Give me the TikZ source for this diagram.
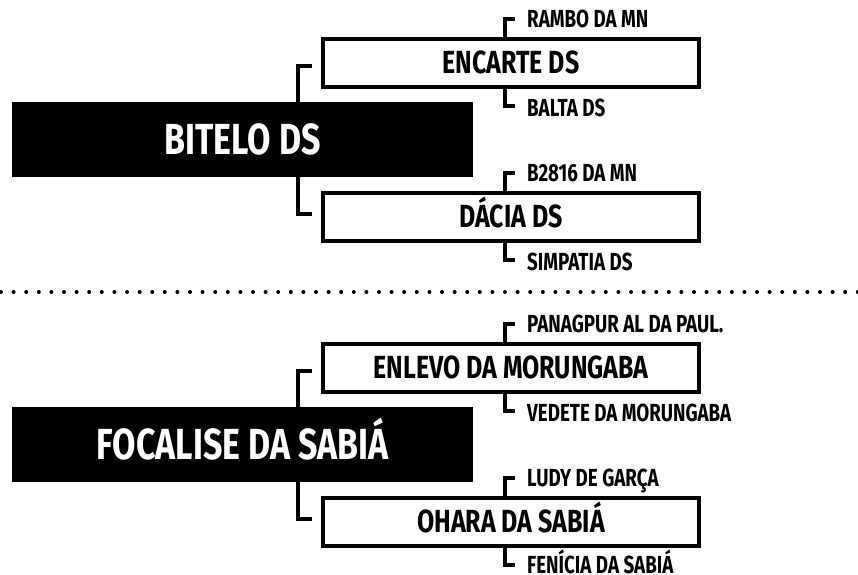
\documentclass[tikz,border=0pt]{standalone}
\usepackage{fontspec}
\newfontfamily\condfont{Fira Sans}[FakeStretch=0.78]
\newfontfamily\leaffont{Fira Sans}[FakeStretch=0.76]
\usetikzlibrary{positioning}
\tikzset{
  root/.style={fill=black,text=white,minimum width=461pt,minimum height=75pt,inner sep=0pt,text height=30pt,text depth=0pt,font=\condfont\bfseries\fontsize{43.5}{44}\selectfont},
  child/.style={draw,line width=4pt,minimum width=376pt,minimum height=48pt,inner sep=0pt,text height=22pt,text depth=0pt,font=\condfont\bfseries\fontsize{32}{32}\selectfont},
  leaf/.style={inner sep=0pt,anchor=base west,font=\leaffont\bfseries\fontsize{24.7}{25}\selectfont},
  link/.style={line width=4pt},
}
\begin{document}
\begin{tikzpicture}[x=1pt,y=-1pt]
\useasboundingbox (0,0) rectangle (858,574);
% upper tree
\node[root](bitelo) at (242.5,139.5){BITELO DS};
\node[child](encarte) at (511,62.5){ENCARTE DS};
\node[child](dacia) at (511,216.5){DÁCIA DS};
\node[leaf](rambo) at ([xshift=16pt,yshift=9pt]encarte.north){RAMBO DA MN};
\node[leaf](balta) at ([xshift=16pt,yshift=-27.5pt]encarte.south){BALTA DS};
\node[leaf](b2816) at ([xshift=16pt,yshift=9pt]dacia.north){B2816 DA MN};
\node[leaf](simpatia) at ([xshift=16pt,yshift=-27.5pt]dacia.south){SIMPATIA DS};
\draw[link] ([xshift=55.5pt]bitelo.north) |- ([xshift=-9pt,yshift=-3pt]encarte.west);
\draw[link] ([xshift=55.5pt]bitelo.south) |- ([xshift=-9pt,yshift=3pt]dacia.west);
\draw[link] ([xshift=-6pt]encarte.north) |- ([xshift=-12pt,yshift=8.5pt]rambo.base west);
\draw[link] ([xshift=-6pt]encarte.south) |- ([xshift=-12pt,yshift=10.5pt]balta.base west);
\draw[link] ([xshift=-6pt]dacia.north) |- ([xshift=-12pt,yshift=8.5pt]b2816.base west);
\draw[link] ([xshift=-6pt]dacia.south) |- ([xshift=-12pt,yshift=10.5pt]simpatia.base west);
% separator
\draw[line width=4pt,line cap=round,dash pattern=on 0pt off 12.6pt] (1,292) -- (858,292);
% lower tree
\node[root](focalise) at (242.5,444.5){FOCALISE DA SABIÁ};
\node[child](enlevo) at (511,367.5){ENLEVO DA MORUNGABA};
\node[child](ohara) at (511,521.5){OHARA DA SABIÁ};
\node[leaf](panagpur) at ([xshift=16pt,yshift=9pt]enlevo.north){PANAGPUR AL DA PAUL.};
\node[leaf](vedete) at ([xshift=16pt,yshift=-27.5pt]enlevo.south){VEDETE DA MORUNGABA};
\node[leaf](ludy) at ([xshift=16pt,yshift=9pt]ohara.north){LUDY DE GARÇA};
\node[leaf](fenicia) at ([xshift=16pt,yshift=-25.5pt]ohara.south){FENÍCIA DA SABIÁ};
\draw[link] ([xshift=55.5pt]focalise.north) |- ([xshift=-9pt,yshift=-3pt]enlevo.west);
\draw[link] ([xshift=55.5pt]focalise.south) |- ([xshift=-9pt,yshift=3pt]ohara.west);
\draw[link] ([xshift=-6pt]enlevo.north) |- ([xshift=-12pt,yshift=8.5pt]panagpur.base west);
\draw[link] ([xshift=-6pt]enlevo.south) |- ([xshift=-12pt,yshift=10.5pt]vedete.base west);
\draw[link] ([xshift=-6pt]ohara.north) |- ([xshift=-12pt,yshift=8.5pt]ludy.base west);
\draw[link] ([xshift=-6pt]ohara.south) |- ([xshift=-12pt,yshift=8.5pt]fenicia.base west);
\end{tikzpicture}
\end{document}
